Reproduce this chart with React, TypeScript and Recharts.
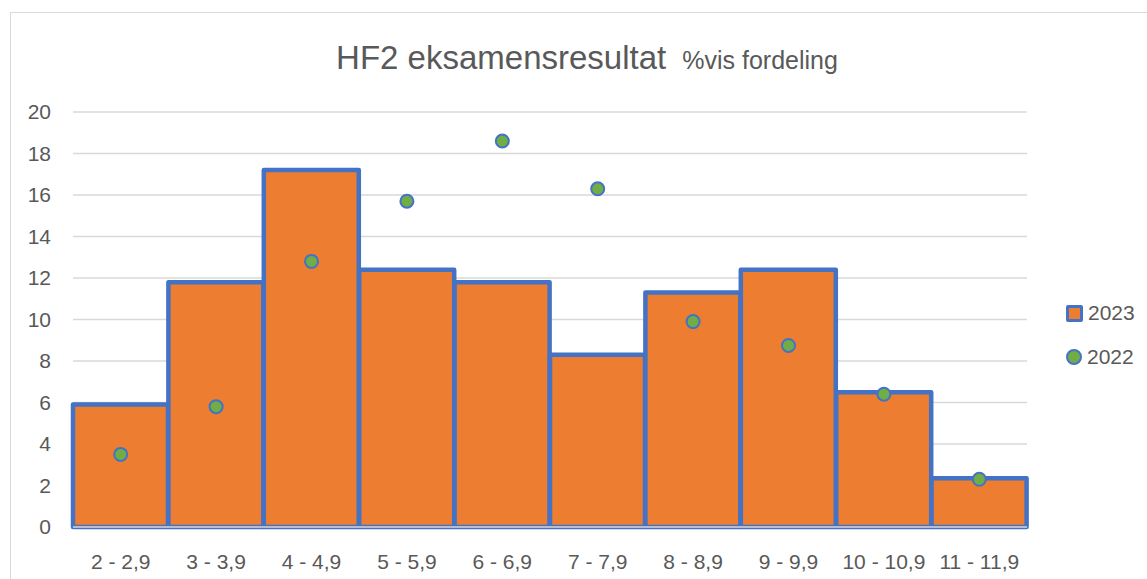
import React from 'react';
import { ComposedChart, Bar, Line, XAxis, YAxis, CartesianGrid, Legend } from 'recharts';

const categories = ['2 - 2,9', '3 - 3,9', '4 - 4,9', '5 - 5,9', '6 - 6,9', '7 - 7,9', '8 - 8,9', '9 - 9,9', '10 - 10,9', '11 - 11,9'];
const values2023 = [5.9, 11.8, 17.2, 12.4, 11.8, 8.3, 11.3, 12.4, 6.5, 2.35];
const values2022 = [3.5, 5.8, 12.8, 15.7, 18.6, 16.3, 9.9, 8.75, 6.4, 2.3];
const yTicks = [0, 2, 4, 6, 8, 10, 12, 14, 16, 18, 20];

const data = categories.map((c, i) => ({ cat: c, y2023: values2023[i], y2022: values2022[i] }));

const FONT = '"Liberation Sans", Arial, sans-serif';
const TEXT = '#595959';
const ORANGE = '#ED7D31';
const BLUE = '#4472C4';
const GREEN = '#70AD47';

const LegendBox = () => (
    <div style={{ fontFamily: FONT, fontSize: 21, color: TEXT }}>
        <div style={{ display: 'flex', alignItems: 'center', height: 24 }}>
            <span style={{ width: 11, height: 11, background: ORANGE, border: `3px solid ${BLUE}`, borderRadius: 2, display: 'inline-block' }} />
            <span style={{ marginLeft: 5 }}>2023</span>
        </div>
        <div style={{ display: 'flex', alignItems: 'center', height: 24, marginTop: 20 }}>
            <span style={{ width: 12, height: 12, background: GREEN, border: `2px solid ${BLUE}`, borderRadius: '50%', display: 'inline-block' }} />
            <span style={{ marginLeft: 5 }}>2022</span>
        </div>
    </div>
);

export default function App() {
    return (
        <div style={{ position: 'absolute', left: 0, top: 0, width: 1147, height: 579, overflow: 'hidden', background: '#fff' }}>
            <div style={{ position: 'absolute', left: 10, top: 12, width: 1200, height: 700, border: '1px solid #d9d9d9' }} />
            <div style={{ position: 'absolute', left: 0, top: 38, width: 1174, textAlign: 'center', fontFamily: FONT, color: TEXT, lineHeight: '40px', whiteSpace: 'nowrap' }}>
                <span style={{ fontSize: 33 }}>HF2 eksamensresultat</span>
                <span style={{ fontSize: 25, marginLeft: 16 }}>%vis fordeling</span>
            </div>
            <div style={{ position: 'absolute', left: 0, top: 0 }}>
                <ComposedChart width={1147} height={579} data={data} barCategoryGap={0} barGap={0}
                    margin={{ top: 112, right: 120, left: 13, bottom: 22 }}>
                    <CartesianGrid vertical={false} stroke="#d9d9d9" strokeWidth={1.5} />
                    <XAxis dataKey="cat" tickLine={false} axisLine={{ stroke: '#d9d9d9', strokeWidth: 1.5 }} height={30}
                        tickMargin={21} interval={0} tick={{ fill: TEXT, fontSize: 21, fontFamily: FONT }} />
                    <YAxis domain={[0, 20]} ticks={yTicks} width={60} axisLine={false} tickLine={false} tickSize={0}
                        tickMargin={22} interval={0} tick={{ fill: TEXT, fontSize: 21, fontFamily: FONT }} />
                    <Legend layout="vertical" align="center" verticalAlign="middle" content={<LegendBox />}
                        wrapperStyle={{ left: 1066, top: 301, width: 80 }} />
                    <Bar dataKey="y2023" name="2023" fill={ORANGE} stroke={BLUE} strokeWidth={4.5} strokeLinejoin="round" isAnimationActive={false} />
                    <Line dataKey="y2022" name="2022" stroke="none" dot={{ r: 6.5, fill: GREEN, stroke: BLUE, strokeWidth: 2 }}
                        activeDot={false} isAnimationActive={false} />
                </ComposedChart>
            </div>
        </div>
    );
}
